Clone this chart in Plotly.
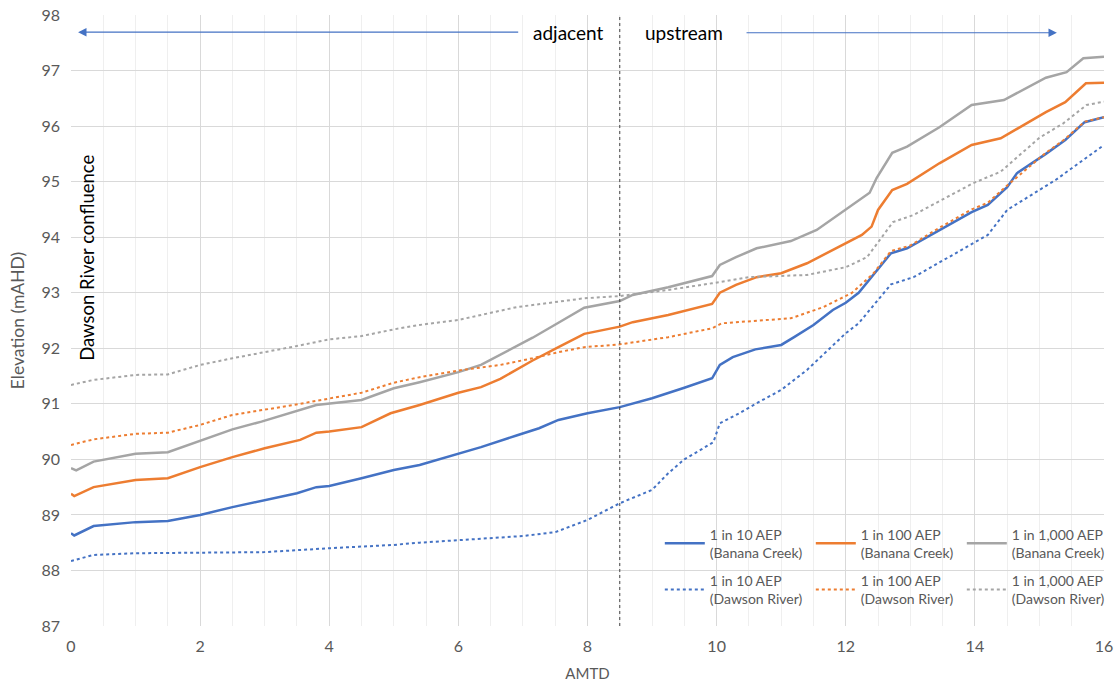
import plotly.graph_objects as go

# ---- data (AMTD km vs elevation mAHD) ----
bc10_x = [0, 0.05, 0.35, 1.0, 1.5, 2.0, 2.5, 3.0, 3.5, 3.8, 4.0, 4.5, 5.0, 5.4, 6.0, 6.35, 6.9, 7.25, 7.55, 8.0, 8.5, 9.0, 9.5, 9.93, 10.05, 10.25, 10.6, 11.0, 11.2, 11.5, 11.8, 12.0, 12.2, 12.45, 12.7, 12.95, 13.45, 13.95, 14.2, 14.5, 14.65, 15.1, 15.4, 15.7, 16.0]
bc10_y = [88.67, 88.63, 88.8, 88.87, 88.89, 89.0, 89.14, 89.27, 89.39, 89.5, 89.52, 89.66, 89.81, 89.9, 90.1, 90.22, 90.43, 90.56, 90.71, 90.83, 90.94, 91.1, 91.29, 91.46, 91.7, 91.84, 91.98, 92.06, 92.2, 92.42, 92.69, 92.82, 93.0, 93.35, 93.71, 93.8, 94.13, 94.45, 94.58, 94.9, 95.15, 95.5, 95.75, 96.07, 96.16]

bc100_x = [0, 0.05, 0.35, 1.0, 1.5, 2.0, 2.5, 3.0, 3.55, 3.8, 4.0, 4.5, 4.95, 5.4, 6.0, 6.35, 6.65, 7.15, 7.55, 7.95, 8.5, 8.7, 9.25, 9.93, 10.05, 10.3, 10.62, 11.0, 11.4, 12.0, 12.25, 12.4, 12.5, 12.72, 12.95, 13.45, 13.95, 14.4, 15.1, 15.4, 15.72, 16.0]
bc100_y = [89.38, 89.34, 89.5, 89.63, 89.66, 89.86, 90.04, 90.2, 90.35, 90.48, 90.5, 90.58, 90.83, 90.98, 91.2, 91.3, 91.45, 91.78, 92.02, 92.26, 92.39, 92.47, 92.6, 92.8, 93.0, 93.14, 93.28, 93.35, 93.53, 93.9, 94.04, 94.19, 94.49, 94.85, 94.96, 95.33, 95.66, 95.78, 96.25, 96.43, 96.77, 96.78]

bc1000_x = [0, 0.08, 0.35, 1.0, 1.5, 2.0, 2.5, 2.95, 3.45, 3.8, 4.5, 5.0, 5.4, 6.0, 6.35, 6.65, 7.15, 7.55, 7.95, 8.5, 8.7, 9.25, 9.93, 10.05, 10.3, 10.62, 10.88, 11.15, 11.55, 12.0, 12.37, 12.48, 12.72, 12.95, 13.45, 13.95, 14.2, 14.45, 15.1, 15.42, 15.68, 16.0]
bc1000_y = [89.84, 89.8, 89.96, 90.1, 90.13, 90.34, 90.54, 90.68, 90.85, 90.98, 91.07, 91.28, 91.39, 91.57, 91.7, 91.88, 92.19, 92.46, 92.73, 92.85, 92.96, 93.1, 93.3, 93.5, 93.64, 93.8, 93.86, 93.93, 94.13, 94.49, 94.8, 95.07, 95.52, 95.63, 95.98, 96.38, 96.43, 96.47, 96.87, 96.97, 97.22, 97.25]

dr10_x = [0, 0.35, 1.0, 2.0, 3.0, 4.0, 5.0, 5.4, 6.1, 6.5, 7.0, 7.5, 8.0, 8.5, 9.0, 9.25, 9.5, 9.75, 9.95, 10.05, 10.35, 10.65, 11.0, 11.4, 12.0, 12.2, 12.7, 13.05, 14.2, 14.5, 15.25, 16.0]
dr10_y = [88.17, 88.28, 88.31, 88.32, 88.33, 88.4, 88.46, 88.5, 88.55, 88.58, 88.62, 88.69, 88.91, 89.21, 89.45, 89.75, 90.0, 90.17, 90.31, 90.65, 90.83, 91.03, 91.25, 91.61, 92.27, 92.45, 93.15, 93.28, 94.04, 94.49, 95.03, 95.66]

dr100_x = [0, 0.35, 1.0, 1.5, 2.0, 2.5, 3.45, 4.0, 4.5, 5.0, 5.4, 6.0, 6.65, 7.15, 7.55, 7.95, 8.5, 9.25, 9.93, 10.08, 10.65, 11.15, 11.65, 12.1, 12.43, 12.7, 13.0, 13.45, 13.95, 14.2, 14.5, 15.1, 15.4, 15.7, 16.0]
dr100_y = [90.26, 90.36, 90.46, 90.48, 90.62, 90.8, 90.98, 91.1, 91.2, 91.38, 91.48, 91.6, 91.7, 91.82, 91.93, 92.02, 92.07, 92.2, 92.36, 92.45, 92.5, 92.54, 92.74, 93.0, 93.35, 93.75, 93.85, 94.17, 94.5, 94.62, 94.93, 95.52, 95.77, 96.08, 96.16]

dr1000_x = [0, 0.35, 1.0, 1.5, 2.0, 2.5, 3.45, 4.0, 4.5, 5.0, 5.4, 6.0, 6.9, 7.95, 8.5, 9.25, 9.93, 10.5, 11.4, 12.0, 12.33, 12.53, 12.73, 13.05, 13.97, 14.4, 15.0, 15.37, 15.73, 16.0]
dr1000_y = [91.34, 91.43, 91.52, 91.53, 91.7, 91.82, 92.03, 92.16, 92.22, 92.34, 92.42, 92.51, 92.74, 92.9, 92.94, 93.05, 93.17, 93.28, 93.32, 93.46, 93.64, 93.95, 94.27, 94.4, 94.97, 95.18, 95.79, 96.05, 96.38, 96.44]

names = ["1 in 10 AEP", "1 in 100 AEP", "1 in 1,000 AEP"]
colors = ["#4472C4", "#ED7D31", "#A5A5A5"]
bc = [(bc10_x, bc10_y), (bc100_x, bc100_y), (bc1000_x, bc1000_y)]
dr = [(dr10_x, dr10_y), (dr100_x, dr100_y), (dr1000_x, dr1000_y)]

FONT = "Lato, 'Open Sans', sans-serif"
fig = go.Figure()
for (x, y), n, c in zip(bc, names, colors):
    fig.add_trace(go.Scatter(x=x, y=y, mode="lines", name=n + "<br>(Banana Creek)",
                             line=dict(color=c, width=2.5), legend="legend"))
for (x, y), n, c in zip(dr, names, colors):
    fig.add_trace(go.Scatter(x=x, y=y, mode="lines", name=n + "<br>(Dawson River)",
                             line=dict(color=c, width=2, dash="dot"), legend="legend2"))

leg_common = dict(orientation="h", xanchor="left", yanchor="top", bgcolor="rgba(0,0,0,0)",
                  font=dict(family=FONT, size=14, color="#595959"),
                  entrywidth=96, entrywidthmode="pixels", itemwidth=40)

fig.update_layout(
    width=1118, height=683,
    margin=dict(l=71, r=14, t=15, b=57, autoexpand=False),
    paper_bgcolor="white", plot_bgcolor="white",
    font=dict(family=FONT, color="#595959"),
    legend=dict(x=0.570, y=0.176, **leg_common),
    legend2=dict(x=0.570, y=0.100, **leg_common),
    xaxis=dict(range=[0, 16], dtick=2, showgrid=True, gridcolor="#D9D9D9", gridwidth=1,
               minor=dict(dtick=0.5, showgrid=True, gridcolor="#EFEFEF"),
               zeroline=False, showline=False, ticks="", automargin=False, ticklabelstandoff=9,
               tickfont=dict(size=16, color="#595959"),
               title=dict(text="AMTD", font=dict(size=15, color="#595959"), standoff=14)),
    yaxis=dict(range=[87, 98], dtick=1, showgrid=True, gridcolor="#D9D9D9", gridwidth=1,
               zeroline=False, showline=False, ticks="", automargin=False, ticklabelstandoff=10,
               tickfont=dict(size=16, color="#595959"),
               title=dict(text="Elevation (mAHD)", font=dict(size=17.5, color="#595959"), standoff=12)),
)

# vertical divider at AMTD 8.5
fig.add_shape(type="line", x0=8.5, x1=8.5, y0=87, y1=98, xref="x", yref="y",
              line=dict(color="#404040", width=1, dash="dot"))

# direction arrows
fig.add_annotation(x=0.11, y=97.69, ax=6.95, ay=97.69, xref="x", yref="y", axref="x", ayref="y",
                   text="", showarrow=True, arrowhead=2, arrowsize=1.4, arrowwidth=1.2, arrowcolor="#4472C4")
fig.add_annotation(x=15.27, y=97.68, ax=10.44, ay=97.68, xref="x", yref="y", axref="x", ayref="y",
                   text="", showarrow=True, arrowhead=2, arrowsize=1.4, arrowwidth=1.2, arrowcolor="#4472C4")
fig.add_annotation(x=7.7, y=97.69, text="adjacent", showarrow=False,
                   font=dict(family=FONT, size=19, color="black"))
fig.add_annotation(x=9.5, y=97.69, text="upstream", showarrow=False,
                   font=dict(family=FONT, size=19, color="black"))
fig.add_annotation(x=0.25, y=93.63, text="Dawson River confluence", showarrow=False, textangle=-90,
                   font=dict(family=FONT, size=18.5, color="black"))

fig.write_html("out.html", config={"displayModeBar": False},
               post_script="document.body.style.margin='0';")
